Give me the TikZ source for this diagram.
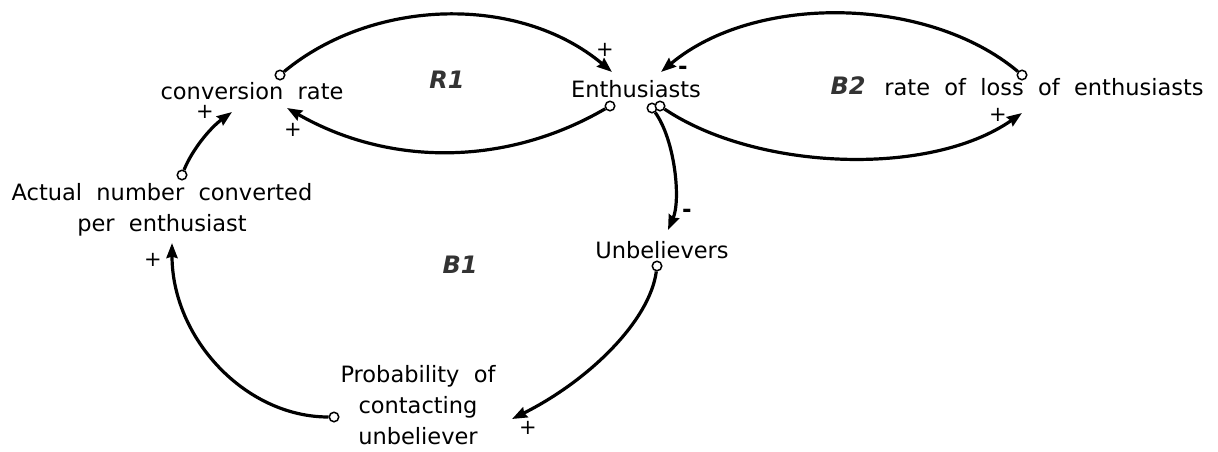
\documentclass[tikz,border=0pt]{standalone}
\usepackage{fontspec}
\setmainfont[WordSpace=2]{DejaVu Sans}
\usetikzlibrary{arrows.meta}
\begin{document}
\begin{tikzpicture}[x=1pt,y=-1pt,
  lbl/.style={inner sep=0pt, font=\fontsize{22.5}{31}\selectfont, align=center},
  loopname/.style={inner sep=0pt, font=\fontsize{24}{28}\selectfont\bfseries\itshape, text=black!80},
  sgn/.style={inner sep=0pt, font=\fontsize{21}{24}\selectfont},
  neg/.style={inner sep=0pt, font=\fontsize{23}{26}\selectfont\bfseries},
  tail/.style={circle, draw, fill=white, line width=1.5pt, inner sep=0pt, minimum size=9.5pt},
  link/.style={line width=3.2pt, -{Stealth[length=15pt,width=11pt,inset=1.5pt]}}]
\useasboundingbox (0,0) rectangle (1218,451);

% variables
\node[lbl, anchor=base] (conv) at (252,99) {conversion rate};
\node[lbl, anchor=base] (enth) at (636,97) {Enthusiasts};
\node[lbl, anchor=base] (loss) at (1044,95) {rate of loss of enthusiasts};
\node[lbl, anchor=base] (unb) at (662,258) {Unbelievers};
\node[lbl, anchor=north] (actual) at (162,183) {Actual number converted\\per enthusiast};
\node[lbl, anchor=north] (prob) at (418,365) {Probability of\\contacting\\unbeliever};

% loop labels
\node[loopname] (r1) at (447,80) {R1};
\node[loopname] (b1) at (460,265) {B1};
\node[loopname] (b2) at (848,86) {B2};

% arrow heads (free ends)
\coordinate (hEnthA) at (612,72);
\coordinate (hConvA) at (287,108);
\coordinate (hConvB) at (232,112);
\coordinate (hActual) at (172,243);
\coordinate (hUnb) at (668,230);
\coordinate (hProb) at (512,419);
\coordinate (hEnthB) at (661,72);
\coordinate (hLoss) at (1022,113);

% tails
\node[tail] (tConv) at (280,75) {};
\node[tail] (tEnthA) at (610,106) {};
\node[tail] (tEnthB) at (652,108) {};
\node[tail] (tEnthC) at (660,106) {};
\node[tail] (tLoss) at (1022,75) {};
\node[tail] (tActual) at (182,175) {};
\node[tail] (tUnb) at (657,266) {};
\node[tail] (tProb) at (334,417) {};

% connectors
\draw[link] (tConv) .. controls (373,-2) and (519,-6) .. (hEnthA);
\draw[link] (tEnthA) .. controls (507,166) and (390,167) .. (hConvA);
\draw[link] (tActual) .. controls (192,150) and (210,128) .. (hConvB);
\draw[link] (tProb) .. controls (245,417) and (172,338) .. (hActual);
\draw[link] (tEnthB) .. controls (675,140) and (681,200) .. (hUnb);
\draw[link] (tUnb) .. controls (650,320) and (590,380) .. (hProb);
\draw[link] (tLoss) .. controls (928,-4) and (755,-7) .. (hEnthB);
\draw[link] (tEnthC) .. controls (755,170) and (929,178) .. (hLoss);

% polarity signs
\node[sgn] (s1) at (605,50) {+};
\node[sgn] (s2) at (293,130) {+};
\node[sgn] (s3) at (205,112) {+};
\node[sgn] (s4) at (153,260) {+};
\node[sgn] (s5) at (528,428) {+};
\node[sgn] (s6) at (998,115) {+};
\node[neg] (s7) at (687,213) {-};
\node[neg] (s8) at (683,70) {-};
\end{tikzpicture}
\end{document}
